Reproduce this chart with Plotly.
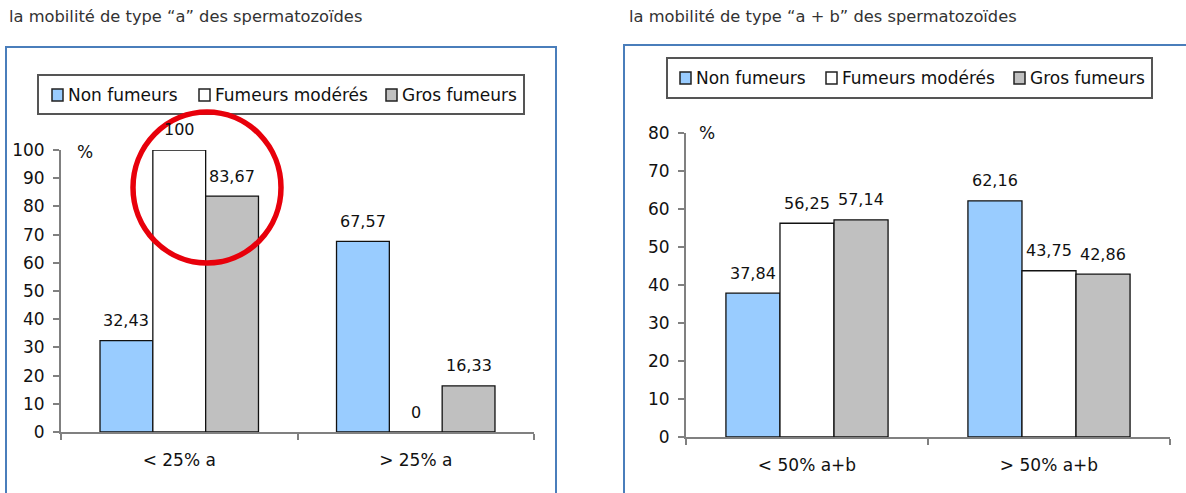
import plotly.graph_objects as go
from plotly.subplots import make_subplots

# ---- data ----
series_names = ["Non fumeurs", "Fumeurs modérés", "Gros fumeurs"]
series_colors = ["#99CCFF", "#FFFFFF", "#C0C0C0"]

cats_a = ["< 25% a", "> 25% a"]
non_fumeurs_a = [32.43, 67.57]
moderes_a = [100, 0]
gros_a = [83.67, 16.33]

cats_ab = ["< 50% a+b", "> 50% a+b"]
non_fumeurs_ab = [37.84, 62.16]
moderes_ab = [56.25, 43.75]
gros_ab = [57.14, 42.86]

title_a = "la mobilité de type “a” des spermatozoïdes"
title_ab = "la mobilité de type “a + b” des spermatozoïdes"

W, H = 1186, 493
FONT = "DejaVu Sans"
TXT = "#111111"
BARGAP = 0.33


def px(x):
    return x / W


def py(y):
    return 1 - y / H


fig = make_subplots(rows=1, cols=2)

panels = [
    (1, cats_a, [non_fumeurs_a, moderes_a, gros_a]),
    (2, cats_ab, [non_fumeurs_ab, moderes_ab, gros_ab]),
]

annotations = []
for col, cats, values in panels:
    for name, color, vals in zip(series_names, series_colors, values):
        fig.add_trace(
            go.Bar(
                x=cats, y=vals, name=name, showlegend=False,
                marker=dict(color=color, line=dict(color="#111111", width=1.3)),
            ),
            row=1, col=col,
        )
    # value labels above each bar
    n = len(values)
    w = (1 - BARGAP) / n
    xr = "x" if col == 1 else "x2"
    yr = "y" if col == 1 else "y2"
    for j, vals in enumerate(values):
        for i, v in enumerate(vals):
            annotations.append(dict(
                x=i + (j - (n - 1) / 2) * w, y=v, xref=xr, yref=yr,
                text=f"{v:g}".replace(".", ","), showarrow=False,
                yanchor="middle", yshift=20,
                font=dict(family=FONT, size=16, color=TXT),
            ))

axis_common = dict(
    showline=True, linecolor="#808080", linewidth=2,
    ticks="outside", tickcolor="#808080", tickwidth=2, ticklen=6,
    showgrid=False, zeroline=False, automargin=False,
    tickfont=dict(family=FONT, size=17, color=TXT),
)

fig.update_layout(
    width=W, height=H, margin=dict(l=0, r=0, t=0, b=0, autoexpand=False),
    paper_bgcolor="white", plot_bgcolor="white",
    barmode="group", bargap=BARGAP, bargroupgap=0,
    xaxis=dict(domain=[px(61), px(534)], type="category",
               tickson="boundaries", ticklabelstandoff=12, **axis_common),
    yaxis=dict(domain=[py(432), py(150)], range=[0, 100], dtick=10,
               ticklabelstandoff=5, **axis_common),
    xaxis2=dict(domain=[px(686), px(1170)], type="category",
                tickson="boundaries", ticklabelstandoff=12, **axis_common),
    yaxis2=dict(domain=[py(437), py(133)], range=[0, 80], dtick=10,
                ticklabelstandoff=5, **axis_common),
)

shapes = []
# chart frames
shapes.append(dict(type="rect", xref="paper", yref="paper",
                   x0=px(6), x1=px(556), y0=py(520), y1=py(47),
                   line=dict(color="#4a7ebb", width=2), layer="below"))
shapes.append(dict(type="rect", xref="paper", yref="paper",
                   x0=px(624), x1=px(1210), y0=py(520), y1=py(45),
                   line=dict(color="#4a7ebb", width=2), layer="below"))

# titles
for x, t in [(7, title_a), (627, title_ab)]:
    annotations.append(dict(x=px(x), y=py(17), xref="paper", yref="paper",
                            text=t, showarrow=False, xanchor="left", yanchor="middle",
                            font=dict(family=FONT, size=16.3, color="#333333")))

# "%" unit labels
for x, y in [(85, 152), (707, 133)]:
    annotations.append(dict(x=px(x), y=py(y), xref="paper", yref="paper",
                            text="%", showarrow=False, xanchor="center", yanchor="middle",
                            font=dict(family=FONT, size=17, color=TXT)))

# legends (box, swatches, names)
legends = [
    dict(box=(38, 524, 75, 114), cy=95, sw=[52, 199, 386]),
    dict(box=(667, 1152, 58, 98), cy=78, sw=[680, 826, 1014]),
]
for lg in legends:
    x0, x1, y0, y1 = lg["box"]
    shapes.append(dict(type="rect", xref="paper", yref="paper",
                       x0=px(x0), x1=px(x1), y0=py(y1), y1=py(y0),
                       line=dict(color="#555555", width=2), fillcolor="white"))
    for sx, name, color in zip(lg["sw"], series_names, series_colors):
        cy = lg["cy"]
        shapes.append(dict(type="rect", xref="paper", yref="paper",
                           x0=px(sx), x1=px(sx + 11), y0=py(cy + 6), y1=py(cy - 6),
                           line=dict(color="#222222", width=1.5), fillcolor=color))
        annotations.append(dict(x=px(sx + 14), y=py(cy), xref="paper", yref="paper",
                                text=name, showarrow=False, xanchor="left", yanchor="middle",
                                font=dict(family=FONT, size=17, color=TXT)))

# red highlight circle
shapes.append(dict(type="circle", xref="paper", yref="paper",
                   x0=px(133), x1=px(281), y0=py(263), y1=py(112),
                   line=dict(color="#e8000b", width=5.5)))

fig.update_layout(shapes=shapes, annotations=annotations)
fig.write_html("out.html")
